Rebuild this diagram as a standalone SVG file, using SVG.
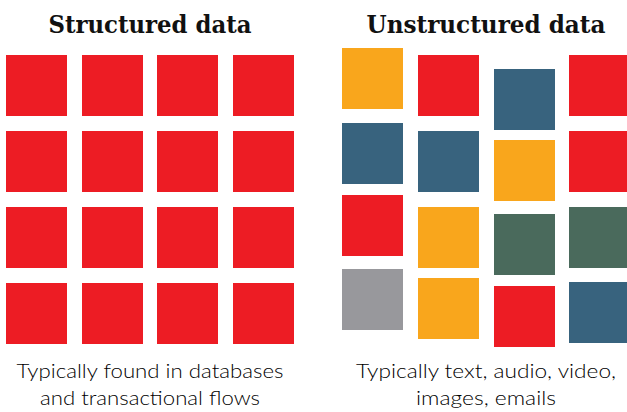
<svg xmlns="http://www.w3.org/2000/svg" width="627" height="412" viewBox="0 0 627 412">
  <style>
    .title { font-family: "DejaVu Serif Condensed", "DejaVu Serif", "Liberation Serif", serif; font-weight: bold; font-size: 25px; fill: #111; text-anchor: middle; }
    .caption { font-family: Lato, "Noto Sans", "Liberation Sans", sans-serif; font-weight: 300; font-size: 20px; fill: #000; text-anchor: middle; }
    .red { fill: #ED1C24; }
    .orange { fill: #F9A61C; }
    .blue { fill: #38637E; }
    .green { fill: #4A6A5C; }
    .gray { fill: #98989C; }
  </style>
  <rect width="627" height="412" fill="#fff"/>

  <!-- Structured data: regular 4x4 grid -->
  <g id="structured">
    <text class="title" x="150" y="33" textLength="203" lengthAdjust="spacingAndGlyphs">Structured data</text>
    <g id="grid-structured" class="red">
      <rect x="6" y="55" width="61" height="61"/>
      <rect x="82" y="55" width="61" height="61"/>
      <rect x="157" y="55" width="61" height="61"/>
      <rect x="233" y="55" width="61" height="61"/>
      <rect x="6" y="131" width="61" height="61"/>
      <rect x="82" y="131" width="61" height="61"/>
      <rect x="157" y="131" width="61" height="61"/>
      <rect x="233" y="131" width="61" height="61"/>
      <rect x="6" y="207" width="61" height="61"/>
      <rect x="82" y="207" width="61" height="61"/>
      <rect x="157" y="207" width="61" height="61"/>
      <rect x="233" y="207" width="61" height="61"/>
      <rect x="6" y="283" width="61" height="61"/>
      <rect x="82" y="283" width="61" height="61"/>
      <rect x="157" y="283" width="61" height="61"/>
      <rect x="233" y="283" width="61" height="61"/>
    </g>
    <text class="caption" x="150" y="378" textLength="267" lengthAdjust="spacingAndGlyphs">Typically found in databases</text>
    <text class="caption" x="150" y="405" textLength="220" lengthAdjust="spacingAndGlyphs">and transactional flows</text>
  </g>

  <!-- Unstructured data: staggered, mixed colours -->
  <g id="unstructured">
    <text class="title" x="486" y="33" textLength="239" lengthAdjust="spacingAndGlyphs">Unstructured data</text>
    <g id="grid-unstructured">
      <rect class="orange" x="342" y="48" width="61" height="61"/>
      <rect class="blue" x="342" y="123" width="61" height="61"/>
      <rect class="red" x="342" y="195" width="61" height="61"/>
      <rect class="gray" x="342" y="269" width="61" height="61"/>

      <rect class="red" x="418" y="55" width="61" height="61"/>
      <rect class="blue" x="418" y="131" width="61" height="61"/>
      <rect class="orange" x="418" y="207" width="61" height="61"/>
      <rect class="orange" x="418" y="278" width="61" height="61"/>

      <rect class="blue" x="494" y="69" width="61" height="61"/>
      <rect class="orange" x="494" y="140" width="61" height="61"/>
      <rect class="green" x="494" y="214" width="61" height="61"/>
      <rect class="red" x="494" y="286" width="61" height="61"/>

      <rect class="red" x="569" y="55" width="61" height="61"/>
      <rect class="red" x="569" y="131" width="61" height="61"/>
      <rect class="green" x="569" y="207" width="61" height="61"/>
      <rect class="blue" x="569" y="282" width="61" height="61"/>
    </g>
    <text class="caption" x="486" y="378" textLength="260" lengthAdjust="spacingAndGlyphs">Typically text, audio, video,</text>
    <text class="caption" x="486" y="405" textLength="140" lengthAdjust="spacingAndGlyphs">images, emails</text>
  </g>
</svg>
